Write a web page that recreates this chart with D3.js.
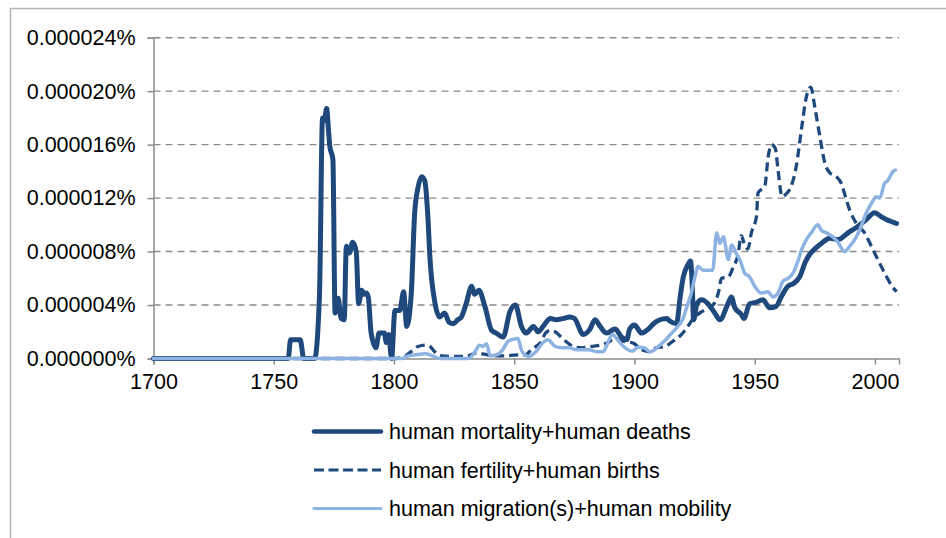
<!DOCTYPE html>
<html>
<head>
<meta charset="utf-8">
<script src="https://cdn.jsdelivr.net/npm/d3@7"></script>
<style>
  html, body { margin: 0; padding: 0; background: #fff; }
  svg { display: block; }
  text { font-family: "Liberation Sans", Arial, sans-serif; fill: #000; }
</style>
</head>
<body>
<svg id="chart" width="946" height="538"></svg>
<script>
// ---- data (values in units of 0.000001 %) ----
const seriesNames = [
  "human mortality+human deaths",
  "human fertility+human births",
  "human migration(s)+human mobility"
];
const xTickLabels = [1700, 1750, 1800, 1850, 1900, 1950, 2000];
const yTickValues = [0, 4, 8, 12, 16, 20, 24];

const mortalityYears = [1700,1756,1757,1761,1762.5,1767,1769,1770.3,1771,1772,1772.8,1773.3,1774.6,1775.5,1776.8,1778,1779.3,1780.2,1781.5,1782.8,1784.3,1785.3,1786.6,1787.5,1788.5,1789.3,1790.5,1792.5,1793.8,1796,1796.8,1797.8,1799,1800.4,1802.4,1804,1805.3,1807.2,1808.6,1810,1811.5,1812.8,1814,1815,1817,1819,1821,1823,1824.7,1826.5,1828,1830,1832.3,1833.5,1835.3,1837.8,1840.6,1842.5,1845.4,1848.2,1850.5,1853,1855,1858,1860,1862,1865,1867.5,1870.5,1873,1875,1878.7,1881.5,1883.6,1885.7,1888.4,1891.9,1894.7,1896.8,1898,1900,1903,1905.8,1907.9,1910.6,1913.4,1914.7,1917.5,1919,1920.3,1922.2,1923.3,1924,1924.6,1926,1928,1930.6,1933.4,1935.5,1938.9,1940.3,1941.7,1944.4,1945.5,1947.9,1950.5,1953.4,1956.2,1958.9,1961,1963.8,1966,1968.7,1971,1972.9,1975,1977.7,1981.2,1984.6,1988.8,1993,1996.4,1999.9,2002.7,2004.7,2007.5,2009];
const mortalityValues = [0,0,1.4,1.4,0,0,4.6,18.0,17.8,18.7,17.0,15.9,14.9,3.4,4.5,3.0,2.9,8.4,7.9,8.7,8.0,4.1,5.1,4.8,4.9,4.6,1.9,0.8,1.9,1.9,1.2,1.8,0,3.6,3.6,5.0,2.4,4.9,10.9,12.8,13.6,13.3,10.9,7.4,4.2,3.1,3.4,2.7,2.6,2.9,3.1,4.1,5.4,4.8,5.1,3.9,2.1,1.9,1.6,3.5,4.0,2.4,1.9,2.4,2.0,2.4,3.0,2.9,3.0,3.1,3.0,1.8,2.2,2.9,2.4,1.9,2.2,1.6,1.4,2.2,2.5,1.9,2.2,2.6,2.9,3.0,2.8,2.6,4.6,6.1,7.0,7.3,5.6,2.9,4.1,4.4,4.1,3.4,2.9,4.1,4.6,3.8,3.3,3.0,4.1,4.2,4.4,3.8,3.9,4.6,5.4,5.6,6.1,7.2,7.8,8.2,8.6,9.0,8.9,9.4,9.9,10.4,10.9,10.6,10.4,10.2,10.1];

const fertilityYears = [1700,1800,1804,1807,1810,1813,1815,1817,1820,1825,1830,1834,1838,1842,1846,1850,1855,1857,1859,1861,1863,1865,1867,1869.5,1872,1874.5,1878,1882,1886,1889,1892,1895,1898.7,1900,1903,1907,1909,1912.6,1916.8,1919,1921,1925,1928,1931,1933.5,1935,1936.2,1939,1941,1943.1,1944.4,1945.8,1947.2,1948.6,1950.7,1951.4,1954.2,1955.6,1957,1958.6,1959.7,1961.4,1963,1965.2,1967.3,1969.4,1971.5,1973.3,1975,1977.1,1979.2,1981.2,1984,1986,1987.4,1989.5,1992.3,1995.7,1998.5,2001.2,2004,2007.5,2009];
const fertilityValues = [0,0,0.1,0.5,0.9,1.0,0.9,0.5,0.2,0.15,0.15,0.4,0.3,0.2,0.2,0.25,0.3,0.65,0.9,1.2,1.9,2.1,2.0,1.6,1.2,0.9,0.8,0.9,1.0,1.2,1.5,1.3,1.2,1.1,0.65,0.5,0.8,0.9,1.4,1.7,2.1,3.1,3.5,3.8,4.2,5.0,6.0,6.1,6.8,7.8,9.2,8.5,8.2,9.4,10.6,12.4,12.9,15.1,16.0,15.7,14.1,12.1,12.3,12.9,14.4,17.1,19.6,20.3,18.8,16.6,14.6,13.9,13.6,13.1,12.3,11.1,10.1,9.4,8.4,7.4,6.4,5.3,5.0];

const migrationYears = [1700,1803,1806,1810,1813,1816,1819,1831,1834,1835.5,1837,1838.5,1840,1843,1845,1847.5,1849,1851.5,1853.3,1856,1859,1862,1864,1867,1870,1873,1876,1881,1884.8,1887,1888.5,1890.8,1893,1895.5,1899,1901.5,1904,1906.5,1908,1910.6,1913,1915,1918,1920,1922.2,1923.5,1925,1926.5,1928.5,1930.5,1932.5,1934.2,1935.5,1937,1939,1940.4,1942.5,1943.8,1945.8,1947.9,1950,1952.7,1955.5,1957.6,1959.7,1961.8,1963.8,1966,1968,1969.4,1971.5,1973.5,1976.3,1977.7,1979.8,1982.5,1984.6,1987.4,1989.5,1991.6,1993.6,1996.4,1998.5,2000.6,2002,2004,2005.3,2007.5,2008.5];
const migrationValues = [0,0,0.2,0.3,0.35,0.2,0,0,0.6,1.0,0.9,1.1,0.2,0.3,0.6,1.3,1.4,1.5,0.5,0.15,0.5,1.2,1.4,0.9,0.8,0.8,0.65,0.65,0.5,0.5,1.0,1.8,1.4,0.9,0.55,0.85,0.8,0.5,0.6,1.0,1.4,1.8,2.4,2.9,4.1,4.8,6.0,6.9,6.6,6.6,6.6,9.4,8.6,9.1,7.4,8.5,7.8,7.4,6.4,6.1,5.4,4.9,5.0,4.6,4.9,5.8,6.0,6.4,7.3,8.1,8.9,9.4,10.0,9.6,9.4,9.1,8.7,8.0,8.4,8.9,9.6,10.9,11.6,12.1,12.0,13.1,13.3,14.0,14.1];

// ---- drawing ----
const svg = d3.select("#chart");
const darkBlue = "#1F497D";
const lightBlue = "#8DB3E2";
const fontSize = "21.5px";

// outer frame
svg.append("rect")
  .attr("x", 10.5).attr("y", 8.5)
  .attr("width", 1000).attr("height", 1000)
  .attr("fill", "none").attr("stroke", "#b3b3b3").attr("stroke-width", 1.5);

const x = d3.scaleLinear().domain([1700, 2010]).range([153.5, 899]);
const y = d3.scaleLinear().domain([0, 24]).range([358.5, 37.7]);

// gridlines
svg.append("g").selectAll("line")
  .data(yTickValues.filter(v => v > 0))
  .join("line")
  .attr("x1", x(1700)).attr("x2", x(2010))
  .attr("y1", d => y(d)).attr("y2", d => y(d))
  .attr("stroke", "#8c8c8c").attr("stroke-width", 1.4)
  .attr("stroke-dasharray", "7,5");

// y axis
const yAxis = d3.axisLeft(y)
  .tickValues(yTickValues)
  .tickSize(6).tickPadding(12)
  .tickFormat(v => (v / 1e6).toFixed(6) + "%");
const gy = svg.append("g").attr("transform", `translate(${x(1700)},0)`).call(yAxis);
gy.select(".domain").attr("stroke", "#8c8c8c").attr("stroke-width", 1.5);
gy.selectAll(".tick line").attr("stroke", "#8c8c8c").attr("stroke-width", 1.5);
gy.selectAll(".tick text").attr("font-size", fontSize).attr("font-family", "Liberation Sans, Arial, sans-serif").attr("fill", "#000");

// x axis
const xAxis = d3.axisBottom(x)
  .tickValues(xTickLabels)
  .tickSize(6).tickPadding(9)
  .tickFormat(d3.format("d"));
const gx = svg.append("g").attr("transform", `translate(0,${y(0)})`).call(xAxis);
gx.select(".domain").attr("stroke", "#8c8c8c").attr("stroke-width", 1.5);
gx.selectAll(".tick line").attr("stroke", "#8c8c8c").attr("stroke-width", 1.5);
gx.selectAll(".tick text").attr("font-size", fontSize).attr("font-family", "Liberation Sans, Arial, sans-serif").attr("fill", "#000");

// series
const line = d3.line()
  .x(d => x(d[0])).y(d => y(d[1]))
  .curve(d3.curveMonotoneX);

const series = [
  { name: seriesNames[0], years: mortalityYears, values: mortalityValues, color: darkBlue, width: 5, dash: null },
  { name: seriesNames[1], years: fertilityYears, values: fertilityValues, color: darkBlue, width: 3.3, dash: "9,5" },
  { name: seriesNames[2], years: migrationYears, values: migrationValues, color: lightBlue, width: 3.5, dash: null }
];

series.forEach(s => {
  const pts = s.years.map((yr, i) => [yr, s.values[i]]);
  svg.append("path")
    .datum(pts)
    .attr("d", line)
    .attr("fill", "none")
    .attr("stroke", s.color)
    .attr("stroke-width", s.width)
    .attr("stroke-linejoin", "round")
    .attr("stroke-linecap", s.dash ? "butt" : "round")
    .attr("stroke-dasharray", s.dash);
});

// legend
const legend = svg.append("g");
series.forEach((s, i) => {
  const cy = 431.5 + i * 38.5;
  legend.append("line")
    .attr("x1", 314).attr("x2", 381)
    .attr("y1", cy).attr("y2", cy)
    .attr("stroke", s.color)
    .attr("stroke-width", i === 0 ? 4.5 : 3.2)
    .attr("stroke-linecap", s.dash ? "butt" : "round")
    .attr("stroke-dasharray", s.dash ? "10,4.5" : null);
  legend.append("text")
    .attr("x", 389).attr("y", cy + 7.5)
    .attr("font-size", fontSize)
    .text(s.name);
});
</script>
</body>
</html>
